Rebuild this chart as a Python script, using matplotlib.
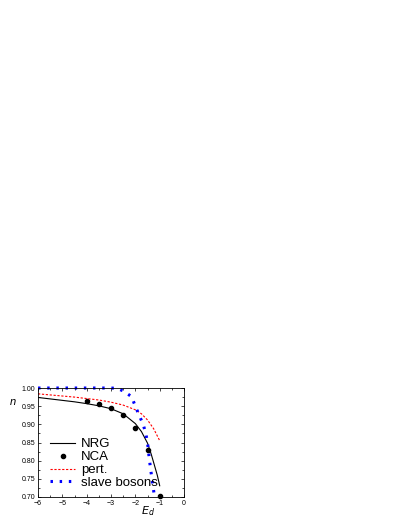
import matplotlib
matplotlib.use('Agg')
import matplotlib.pyplot as plt
from matplotlib.ticker import MultipleLocator

plt.rcParams['font.family'] = ['Liberation Sans', 'DejaVu Sans']

# NRG curve
nrg_x = [-6, -5.5, -5, -4.5, -4, -3.5, -3, -2.5, -2, -1.75, -1.5, -1.35, -1.25, -1.1, -1.0]
nrg_y = [0.974, 0.970, 0.966, 0.962, 0.957, 0.951, 0.943, 0.929, 0.902, 0.880, 0.848, 0.818, 0.795, 0.760, 0.731]

# NCA points
nca_x = [-4, -3.5, -3, -2.5, -2, -1.5, -1]
nca_y = [0.964, 0.955, 0.944, 0.925, 0.891, 0.830, 0.703]

# perturbation theory
pert_x = [-6, -5.5, -5, -4.5, -4, -3.5, -3, -2.5, -2, -1.75, -1.5, -1.25, -1.0]
pert_y = [0.984, 0.981, 0.978, 0.975, 0.971, 0.967, 0.961, 0.953, 0.940, 0.929, 0.912, 0.888, 0.855]

# slave bosons
sb_x = [-6, -5, -4, -3, -2.75, -2.5, -2.15, -2.05, -1.92, -1.67, -1.56, -1.49, -1.43, -1.36, -1.29, -1.22]
sb_y = [1.0, 1.0, 1.0, 1.0, 0.999, 0.992, 0.976, 0.958, 0.937, 0.898, 0.871, 0.843, 0.806, 0.770, 0.737, 0.703]

fig = plt.figure(figsize=(4.09, 5.29), dpi=100)
ax = fig.add_axes([0.093, 0.0605, 0.357, 0.206])

ax.plot(nrg_x, nrg_y, color='black', lw=0.8, label='NRG')
ax.plot(nca_x, nca_y, 'o', color='black', ms=3, label='NCA', clip_on=False)
ax.plot(pert_x, pert_y, color='red', lw=0.8, dashes=(2, 1.5), label='pert.')
ax.plot(sb_x, sb_y, color='blue', lw=2.2, dashes=(0.8, 2.2), label='slave bosons', clip_on=False)

ax.set_xlim(-6, 0)
ax.set_ylim(0.70, 1.00)
ax.xaxis.set_major_locator(MultipleLocator(1))
ax.xaxis.set_minor_locator(MultipleLocator(0.5))
ax.yaxis.set_major_locator(MultipleLocator(0.05))
ax.yaxis.set_minor_locator(MultipleLocator(0.025))
ax.tick_params(which='both', direction='in', top=True, right=True, labelsize=5, pad=2)
ax.tick_params(which='major', length=2.5, width=0.5)
ax.tick_params(which='minor', length=1.5, width=0.5)
ax.set_yticklabels(['%.2f' % v for v in ax.get_yticks()])
for s in ax.spines.values():
    s.set_linewidth(0.6)

fig.text(0.032, 0.240, 'n', style='italic', fontsize=8, ha='center', va='center')
fig.text(0.362, 0.034, '$\\mathit{E}_\\mathit{d}$', fontsize=8, ha='center', va='center')

ax.legend(loc='lower left', frameon=False, fontsize=9.5, handlelength=1.9,
          borderaxespad=0.2, labelspacing=0.05, handletextpad=0.4, bbox_to_anchor=(0.03, 0.0))

fig.savefig('out.png', dpi=100)
